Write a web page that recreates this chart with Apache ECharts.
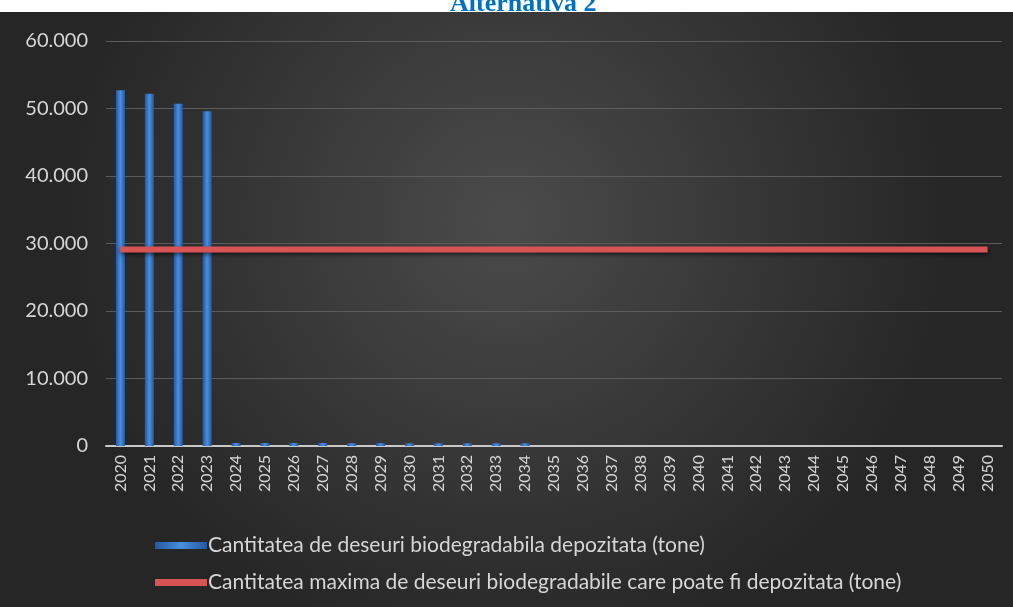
<!DOCTYPE html>
<html>
<head>
<meta charset="utf-8">
<script src="https://cdn.jsdelivr.net/npm/echarts@6/dist/echarts.min.js"></script>
<style>
  html, body { margin: 0; padding: 0; background: #fff; }
  #chart { width: 1013px; height: 607px; }
</style>
</head>
<body>
<div id="chart"></div>
<script>
// years on the x axis
const years = []
for (let y = 2020; y <= 2050; y++) years.push(String(y))

// deposited biodegradable waste (tone)
const deposited = [52700, 52200, 50700, 49600, 450, 450, 450, 450, 420, 420, 400, 400, 400, 400, 400,
  0, 0, 0, 0, 0, 0, 0, 0, 0, 0, 0, 0, 0, 0, 0, 0]
// maximum allowed quantity (tone)
const maxAllowed = [29100, 29100, 29100, 29100, 29100, 29100, 29100, 29100, 29100, 29100, 29100,
  29100, 29100, 29100, 29100, 29100, 29100, 29100, 29100, 29100, 29100, 29100, 29100, 29100, 29100,
  29100, 29100, 29100, 29100, 29100, 29100]

const seriesNames = [
  'Cantitatea de deseuri biodegradabila depozitata (tone)',
  'Cantitatea maxima de deseuri biodegradabile care poate fi depozitata (tone)'
]

const chart = echarts.init(document.getElementById('chart'))
const option = {
  backgroundColor: '#ffffff',
  animation: false,
  textStyle: { fontFamily: 'Lato' },
  title: {
    text: 'Alternativa 2',
    left: 445,
    top: -14,
    textStyle: {
      fontFamily: 'Liberation Serif',
      fontWeight: 'bold',
      fontSize: 26,
      color: '#0070c0'
    }
  },
  graphic: [
    {
      type: 'rect',
      z: -10,
      silent: true,
      shape: { x: 0, y: 12, width: 1013, height: 595 },
      style: {
        fill: new echarts.graphic.RadialGradient(0.5, 0.35, 0.75, [
          { offset: 0, color: '#4b4b4b' },
          { offset: 1, color: '#262626' }
        ])
      }
    }
  ],
  legend: {
    orient: 'vertical',
    left: 150,
    top: 530,
    itemGap: 16,
    itemWidth: 52,
    itemHeight: 7,
    textStyle: { color: '#d6d6d6', fontSize: 21, fontFamily: 'Lato', padding: [0, 0, 0, -4] },
    data: [
      { name: seriesNames[0], icon: 'rect' },
      { name: seriesNames[1], icon: 'rect' }
    ]
  },
  grid: {
    left: 106,
    right: 11,
    top: 41,
    bottom: 161
  },
  xAxis: {
    type: 'category',
    data: years,
    axisLine: { lineStyle: { color: '#c8c8c8', width: 2 } },
    axisTick: { show: false },
    axisLabel: {
      rotate: 90,
      color: '#d6d6d6',
      fontSize: 16,
      margin: 9,
      interval: 0
    }
  },
  yAxis: {
    type: 'value',
    min: 0,
    max: 60000,
    interval: 10000,
    axisLine: { show: false },
    axisTick: { show: false },
    splitLine: { lineStyle: { color: '#5c5c5c', width: 1 } },
    axisLabel: {
      color: '#d6d6d6',
      fontSize: 20,
      margin: 18,
      formatter: function (v) {
        return v === 0 ? '0' : String(v).replace(/\B(?=(\d{3})+(?!\d))/g, '.')
      }
    }
  },
  series: [
    {
      name: seriesNames[0],
      type: 'bar',
      barWidth: 9,
      itemStyle: {
        color: new echarts.graphic.LinearGradient(0, 0, 1, 0, [
          { offset: 0, color: '#2458a0' },
          { offset: 0.5, color: '#4a8ee0' },
          { offset: 1, color: '#2458a0' }
        ])
      },
      data: deposited
    },
    {
      name: seriesNames[1],
      type: 'line',
      symbol: 'none',
      itemStyle: { color: '#d85454' },
      lineStyle: {
        color: '#d85454',
        width: 6,
        shadowColor: 'rgba(0,0,0,0.6)',
        shadowBlur: 4,
        shadowOffsetY: 2
      },
      z: 3,
      data: maxAllowed
    }
  ]
}
chart.setOption(option)
</script>
</body>
</html>
